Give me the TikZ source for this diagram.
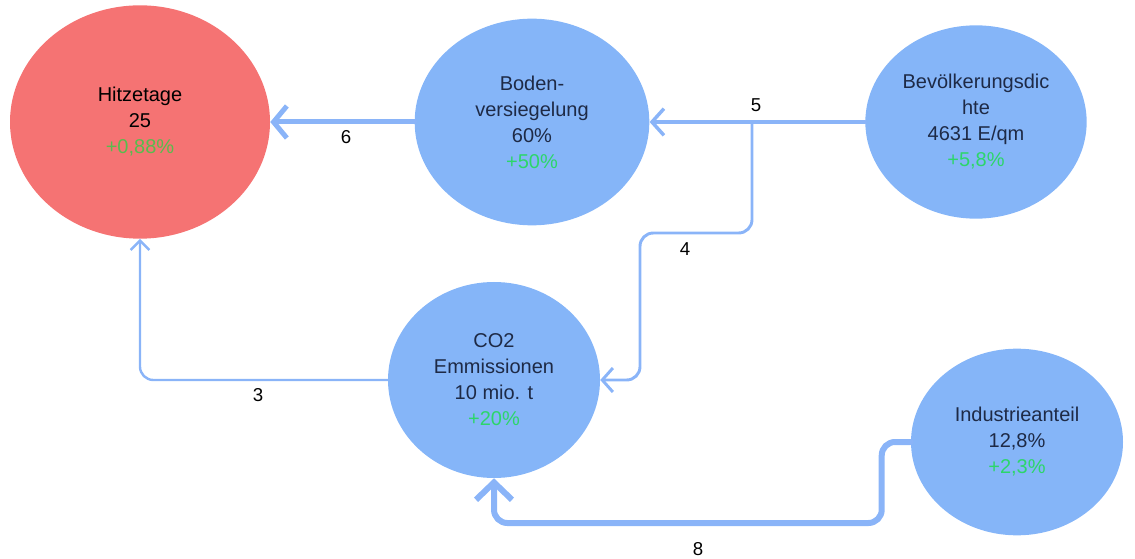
\documentclass[tikz,border=0pt]{standalone}
\usepackage{fontspec}
\setmainfont{Liberation Sans}
\usetikzlibrary{shapes.geometric,arrows.meta}
\definecolor{hotred}{RGB}{245,115,115}
\definecolor{nodeblue}{RGB}{133,181,248}
\definecolor{linkblue}{RGB}{138,180,248}
\definecolor{inkblue}{RGB}{30,42,70}
\definecolor{upgreen}{RGB}{44,214,106}
\definecolor{upgreenred}{RGB}{88,188,78}
\tikzset{
  bubble/.style={ellipse, fill=nodeblue, inner sep=0pt, align=center,
    text=inkblue, font=\fontsize{15}{19.5}\selectfont},
  link/.style={draw=linkblue, line cap=round, rounded corners=10pt},
  num/.style={font=\fontsize{14}{16}\selectfont, text=black},
}
\begin{document}
\begin{tikzpicture}[x=0.75pt, y=-0.75pt]
    \useasboundingbox (0,0) rectangle (1135,559);
    \node[bubble, fill=hotred, text=black, minimum width=195pt, minimum height=175pt]
      (hitze) at (140,122) {Hitzetage\\25\\\textcolor{upgreenred}{+0,88\%}};
    \node[bubble, minimum width=176pt, minimum height=155pt]
      (boden) at (532,122) {Boden-\\versiegelung\\60\%\\\textcolor{upgreen}{+50\%}};
    \node[bubble, minimum width=166pt, minimum height=145pt]
      (bev) at (976,122) {Bevölkerungsdic\\hte\\4631 E/qm\\\textcolor{upgreen}{+5,8\%}};
    \node[bubble, minimum width=159pt, minimum height=147pt]
      (co2) at (494,380) {CO2\\Emmissionen\\10 mio. t\\\textcolor{upgreen}{+20\%}};
    \node[bubble, minimum width=159pt, minimum height=140pt]
      (ind) at (1017,442) {Industrieanteil\\12,8\%\\\textcolor{upgreen}{+2,3\%}};
    \coordinate (split) at (752,122);
    \draw[link, line width=3.75pt, -{Straight Barb[length=10pt,width=24pt]}] (boden.west) -- (hitze.east);
    \draw[link, line width=2.6pt, -{Straight Barb[length=9pt,width=20pt]}] (bev.west) -- (boden.east);
    \draw[link, line width=2.2pt, -{Straight Barb[length=8pt,width=18pt]}]
      (split) -- ++(0,111) -- ++(-112,0) |- (co2.east);
    \draw[link, line width=1.8pt, -{Straight Barb[length=7pt,width=14pt]}] (co2.west) -| (hitze.south);
    \draw[link, line width=4.5pt, -{Straight Barb[length=13pt,width=27pt]}]
      (ind.west) -- ++(-29,0) -- ++(0,81) -| (co2.south);
    \node[num] (n6) at (346,137) {6};
    \node[num] (n5) at (756,105) {5};
    \node[num] (n4) at (685,249) {4};
    \node[num] (n3) at (258,395) {3};
    \node[num] (n8) at (698,549) {8};
  \end{tikzpicture}
\end{document}
